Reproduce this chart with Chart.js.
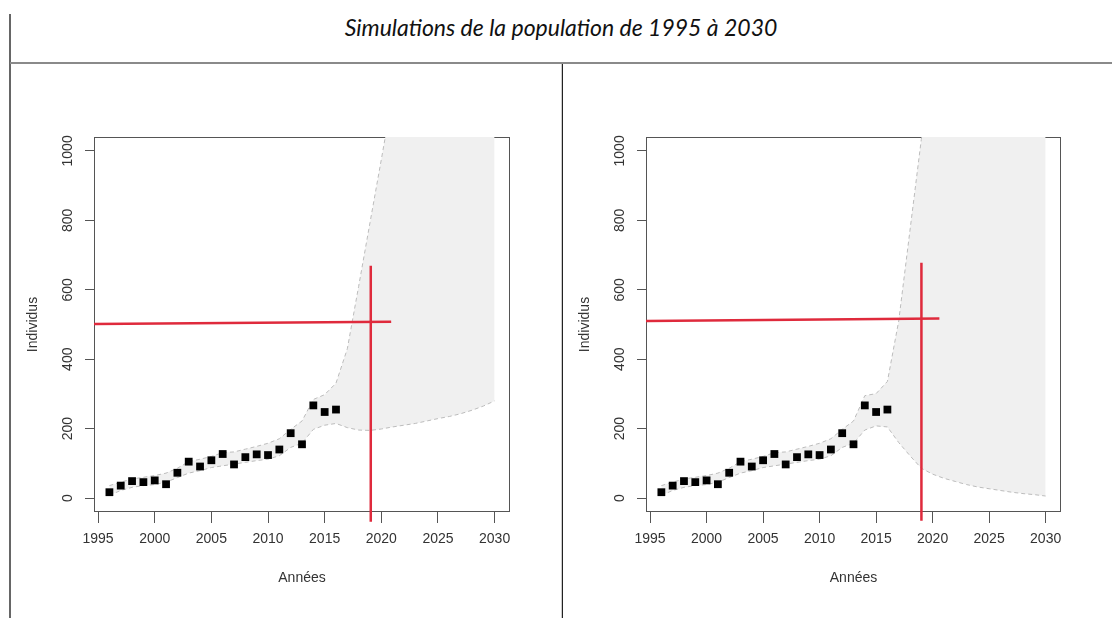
<!DOCTYPE html>
<html>
<head>
<meta charset="utf-8">
<script src="https://cdn.jsdelivr.net/npm/chart.js@4.4.1/dist/chart.umd.min.js"></script>
<style>
  html, body { margin: 0; padding: 0; background: #fff; }
  body { width: 1112px; height: 618px; position: relative; overflow: hidden; font-family: "Liberation Sans", Arial, sans-serif; }
  #title { position: absolute; left: 10px; right: 0; top: 13px; text-align: center; font: italic 23px Lato, "Open Sans", sans-serif; color: #111; }
  .vline-left { position: absolute; left: 9px; top: 14px; width: 2px; height: 604px; background: #666; }
  .hline { position: absolute; left: 10px; top: 62px; width: 1102px; height: 2px; background: #8a8a8a; }
  .vline-mid { position: absolute; left: 562px; top: 64px; width: 1px; height: 554px; background: #222; box-shadow: -1px 0 0 #ccc; }
  .panel { position: absolute; top: 64px; }
</style>
</head>
<body>
<div class="vline-left"></div>
<div id="title">Simulations de la population de 1995 à 2030</div>
<div class="hline"></div>
<div class="vline-mid"></div>
<canvas id="left" class="panel" style="left:11px" width="550" height="554"></canvas>
<canvas id="right" class="panel" style="left:563px" width="549" height="554"></canvas>

<script>
// ---- data ----
const tickYears = [1995, 2000, 2005, 2010, 2015, 2020, 2025, 2030];
const tickCounts = [0, 200, 400, 600, 800, 1000];

const obsYears  = [1996, 1997, 1998, 1999, 2000, 2001, 2002, 2003, 2004, 2005, 2006,
                   2007, 2008, 2009, 2010, 2011, 2012, 2013, 2014, 2015, 2016];
const obsCounts = [17, 36, 49, 46, 51, 40, 73, 105, 91, 109, 127,
                   97, 118, 126, 124, 140, 187, 155, 267, 248, 255];

const simYears = [1996, 1997, 1998, 1999, 2000, 2001, 2002, 2003, 2004, 2005, 2006, 2007,
                  2008, 2009, 2010, 2011, 2012, 2013, 2014, 2015, 2016, 2017, 2018, 2019,
                  2020, 2021, 2022, 2023, 2024, 2025, 2026, 2027, 2028, 2029, 2030];

// left panel envelope
const leftUpper = [36, 46, 55, 60, 65, 72, 86, 105, 112, 120, 131, 133,
                   141, 149, 158, 171, 198, 222, 284, 298, 331, 430, 610, 793,
                   975, 1160, 1340, 1520, 1700, 1880, 2060, 2240, 2420, 2600, 2780];
const leftLower = [8, 22, 31, 36, 39, 46, 59, 72, 79, 88, 93, 98,
                   103, 108, 112, 122, 146, 158, 198, 210, 215, 203, 196, 195,
                   199, 205, 210, 215, 222, 229, 235, 243, 253, 265, 280];

// right panel envelope
const rightUpper = [36, 46, 55, 60, 65, 72, 86, 105, 112, 120, 131, 133,
                    141, 149, 158, 171, 198, 222, 295, 301, 336, 510, 772, 1033,
                    1300, 1560, 1820, 2080, 2340, 2600, 2860, 3120, 3380, 3640, 3900];
const rightLower = [8, 22, 31, 36, 39, 46, 59, 72, 79, 88, 93, 98,
                    103, 108, 112, 122, 146, 158, 196, 208, 205, 160, 122, 86,
                    69, 57, 48, 39, 32, 27, 22, 17, 13, 10, 6];

// red reference lines
const leftHorizYears = [1994.0, 2020.87];
const leftHorizVals  = [501, 508];
const leftVertYears  = [2019.07, 2019.07];
const leftVertVals   = [669, -68];

const rightHorizYears = [1994.0, 2020.6];
const rightHorizVals  = [510, 517];
const rightVertYears  = [2019.01, 2019.01];
const rightVertVals   = [678, -65];

const RED = '#df2a3c';
const FONT = '"Liberation Sans", Arial, sans-serif';

const pts = (xs, ys) => xs.map((x, i) => ({ x, y: ys[i] }));

// box around the plot + rotated y labels (R style)
const framePlugin = {
  id: 'frame',
  beforeDatasetsDraw(chart) {
    const { ctx, chartArea: a, scales: { y } } = chart;
    ctx.save();
    ctx.strokeStyle = '#555';
    ctx.lineWidth = 1;
    const l = Math.round(a.left) + 0.5, t = Math.round(a.top) + 0.5;
    const r = Math.round(a.right) - 0.5, b = Math.round(a.bottom) - 0.5;
    ctx.strokeRect(l, t, r - l, b - t);
    ctx.fillStyle = '#333';
    ctx.font = '14px ' + FONT;
    ctx.textAlign = 'center';
    ctx.textBaseline = 'middle';
    y.ticks.forEach(tk => {
      ctx.save();
      ctx.translate(y.right - 26, y.getPixelForValue(tk.value));
      ctx.rotate(-Math.PI / 2);
      ctx.fillText(String(tk.value), 0, 0);
      ctx.restore();
    });
    ctx.restore();
  }
};

function makeChart(id, upper, lower, hx, hy, vx, vy) {
  const canvas = document.getElementById(id);
  return new Chart(canvas, {
    type: 'scatter',
    data: {
      datasets: [
        { data: pts(obsYears, obsCounts), pointStyle: 'rect', pointRadius: 5.5,
          backgroundColor: '#000', borderWidth: 0, order: 0 },
        { data: pts(hx, hy), showLine: true, borderColor: RED, borderWidth: 2.5,
          pointRadius: 0, order: 1 },
        { data: pts(vx, vy), showLine: true, borderColor: RED, borderWidth: 2.5,
          pointRadius: 0, clip: false, order: 1 },
        { data: pts(simYears, upper), showLine: true, borderColor: '#bcbcbc', borderWidth: 1,
          borderDash: [4, 3], pointRadius: 0, fill: '+1', backgroundColor: '#f0f0f0', order: 3 },
        { data: pts(simYears, lower), showLine: true, borderColor: '#bcbcbc', borderWidth: 1,
          borderDash: [4, 3], pointRadius: 0, fill: false, order: 2 }
      ]
    },
    options: {
      responsive: false,
      animation: false,
      devicePixelRatio: 1,
      events: [],
      layout: { padding: { left: 0, top: 73, right: 51, bottom: 0 } },
      plugins: { legend: { display: false }, tooltip: { enabled: false } },
      scales: {
        x: {
          type: 'linear', min: 1994.64, max: 2031.36,
          afterBuildTicks: s => { s.ticks = tickYears.map(v => ({ value: v })); },
          afterFit: s => { s.height = 106; },
          grid: { drawOnChartArea: false, tickLength: 11, tickColor: '#555', tickWidth: 1 },
          border: { display: false },
          ticks: { color: '#333', font: { size: 14, family: FONT }, padding: 8,
                   maxRotation: 0, autoSkip: false, callback: v => String(v) },
          title: { display: true, text: 'Années', color: '#333',
                   font: { size: 14, family: FONT }, padding: { top: 0, bottom: 31 } }
        },
        y: {
          type: 'linear', min: -40, max: 1040,
          afterBuildTicks: s => { s.ticks = tickCounts.map(v => ({ value: v })); },
          afterFit: s => { s.width = 83; },
          grid: { drawOnChartArea: false, tickLength: 9, tickColor: '#555', tickWidth: 1 },
          border: { display: false },
          ticks: { display: false },
          title: { display: true, text: 'Individus', color: '#333',
                   font: { size: 14, family: FONT }, padding: { top: 14, bottom: 0 } }
        }
      }
    },
    plugins: [framePlugin]
  });
}

makeChart('left', leftUpper, leftLower, leftHorizYears, leftHorizVals, leftVertYears, leftVertVals);
makeChart('right', rightUpper, rightLower, rightHorizYears, rightHorizVals, rightVertYears, rightVertVals);
</script>
</body>
</html>
